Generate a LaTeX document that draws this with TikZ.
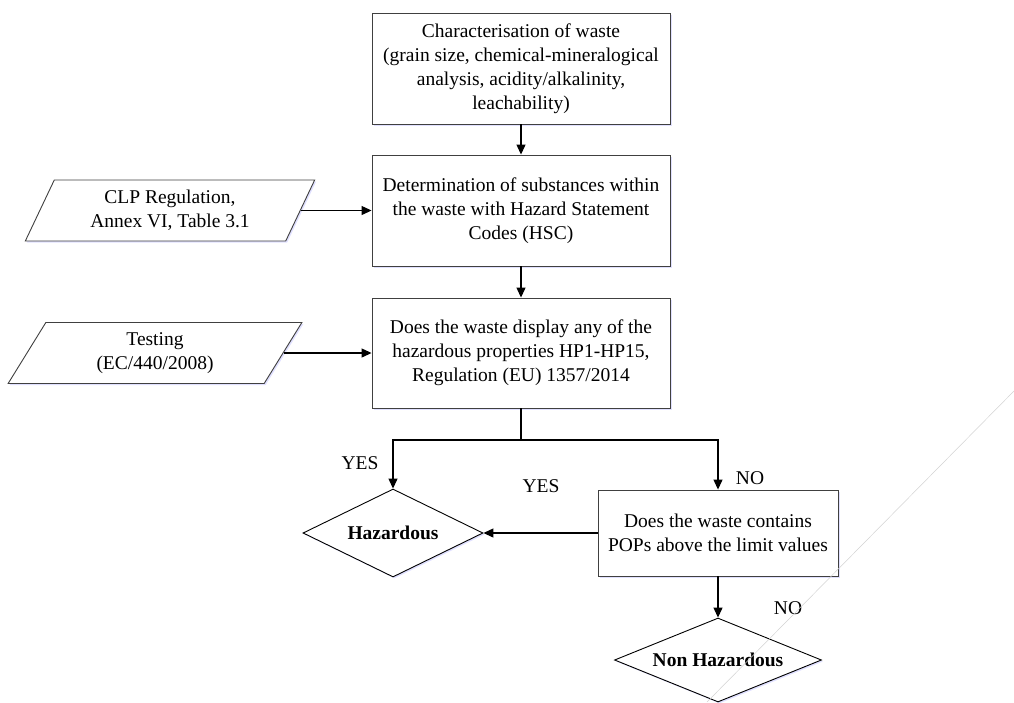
\documentclass[tikz,border=0pt]{standalone}
\usepackage{fontspec}
\setmainfont{Liberation Serif}
\usetikzlibrary{shapes.geometric, arrows.meta, shadows}

\tikzset{
  softshadow/.style={drop shadow={shadow xshift=1.5pt, shadow yshift=-1.5pt, fill=blue!12, opacity=1}},
  stage/.style={rectangle, draw=black!75, line width=0.9pt, fill=white, align=center, inner sep=0pt, softshadow},
  source/.style={trapezium, trapezium left angle=63.8, trapezium right angle=116.2, trapezium stretches=true,
    draw=black!75, line width=0.9pt, fill=white, align=center, inner sep=0pt, minimum height=61pt, softshadow},
  verdict/.style={diamond, aspect=2.4, draw=black, line width=0.9pt, fill=white, inner sep=0pt, font=\bfseries, softshadow},
  flow/.style={line width=1.2pt, -{Triangle[length=10pt, width=9pt]}},
  answer/.style={inner sep=0pt}
}

\begin{document}
\fontsize{19.5}{24}\selectfont
\begin{tikzpicture}[x=1pt, y=-1pt]
\useasboundingbox (0,0) rectangle (1014,702);

\node[stage, minimum width=298pt, minimum height=111pt] (charact) at (521,68.5)
  {Characterisation of waste\\(grain size, chemical-mineralogical\\analysis, acidity/alkalinity,\\leachability)};
\node[stage, minimum width=298pt, minimum height=111pt] (substances) at (521,210.5)
  {Determination of substances within\\the waste with Hazard Statement\\Codes (HSC)};
\node[stage, minimum width=298pt, minimum height=110pt] (properties) at (521,353)
  {Does the waste display any of the\\hazardous properties HP1-HP15,\\Regulation (EU) 1357/2014};
\node[stage, minimum width=240pt, minimum height=86pt] (pops) at (718,533)
  {Does the waste contains\\POPs above the limit values};

\node[source, minimum width=290pt] (clp) at (170,210.5) {CLP Regulation,\\Annex VI, Table 3.1};
\node[source, minimum width=294pt] (testing) at (155,353) {Testing\\(EC/440/2008)};

\node[verdict, minimum width=180pt, minimum height=88pt] (haz) at (393,533) {Hazardous};
\node[verdict, minimum width=207pt, minimum height=84pt] (nonhaz) at (718,660) {Non Hazardous};

\coordinate (split) at (521,440);

\draw[flow] (charact) -- (substances);
\draw[flow] (substances) -- (properties);
\draw[flow] (clp.east) -- (clp.east -| substances.west);
\draw[flow] (testing.east) -- (testing.east -| properties.west);
\draw[line width=1.2pt] (properties) -- (split);
\draw[flow] (split) -| (haz.north);
\draw[flow] (split) -| (pops.north);
\draw[flow] (pops) -- (haz);
\draw[flow] (pops) -- (nonhaz);

\node[answer] (yesleft) at (360,463) {YES};
\node[answer] (yesmid) at (541,486) {YES};
\node[answer] (nopops) at (750,478) {NO};
\node[answer] (nofinal) at (788,608) {NO};

\draw[gray!35, line width=0.5pt] (1014,391) -- (707,702);
\end{tikzpicture}
\end{document}
